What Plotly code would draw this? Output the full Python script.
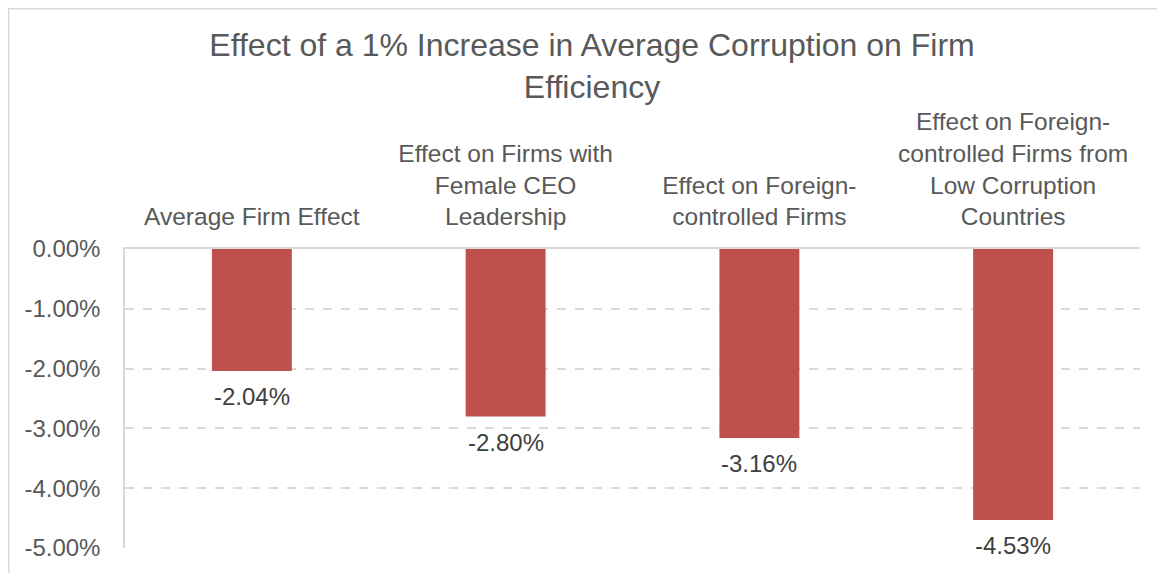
import plotly.graph_objects as go

categories = [
    "Average Firm Effect",
    "Effect on Firms with<br>Female CEO<br>Leadership",
    "Effect on Foreign-<br>controlled Firms",
    "Effect on Foreign-<br>controlled Firms from<br>Low Corruption<br>Countries",
]
values = [-2.04, -2.80, -3.16, -4.53]
y_tickvals = [0, -1, -2, -3, -4, -5]
y_ticktext = ["0.00%", "-1.00%", "-2.00%", "-3.00%", "-4.00%", "-5.00%"]
title_text = "Effect of a 1% Increase in Average Corruption on Firm<br>Efficiency"

FONT = "Liberation Sans, Arial, sans-serif"
GRID = "#D9D9D9"
TXT = "#595959"

# plot area in figure pixels
L, R, T, B = 117, 1132, 241, 540

fig = go.Figure()
fig.add_trace(go.Bar(
    x=list(range(len(categories))),
    y=values,
    marker=dict(color="#C0504D", line=dict(width=0)),
    width=0.315,
    hoverinfo="skip",
))

for i, v in enumerate(values):
    fig.add_annotation(
        x=i, y=v, xref="x", yref="y",
        text=f"{v:.2f}%", showarrow=False,
        yanchor="middle", xanchor="center", yshift=-26,
        font=dict(family=FONT, size=24, color="#404040"),
    )

# outer chart frame
fig.add_shape(
    type="rect", xref="paper", yref="paper",
    x0=(0.75 - L) / (R - L), x1=1.2, y0=-0.3, y1=(B - 0.75) / (B - T),
    line=dict(color=GRID, width=1.5), fillcolor="rgba(0,0,0,0)", layer="below",
)

fig.update_layout(
    width=1165, height=573,
    margin=dict(l=L, r=1165 - R, t=T, b=573 - B),
    paper_bgcolor="white", plot_bgcolor="white",
    showlegend=False,
    title=dict(
        text=title_text, x=584 / 1165, xref="container", xanchor="center",
        y=1 - 48 / 573, yref="container", yanchor="top",
        font=dict(family=FONT, size=32, color=TXT),
    ),
    font=dict(family=FONT, color=TXT),
    xaxis=dict(
        side="top", range=[-0.5, len(categories) - 0.5],
        tickvals=list(range(len(categories))), ticktext=categories,
        tickfont=dict(family=FONT, size=24.5, color=TXT),
        showgrid=False, showline=True, linecolor=GRID, linewidth=1.5,
        ticks="", zeroline=False, ticklabelstandoff=12,
    ),
    yaxis=dict(
        range=[-5, 0], tickvals=y_tickvals, ticktext=y_ticktext,
        tickfont=dict(family=FONT, size=24, color=TXT),
        showgrid=True, gridcolor=GRID, griddash="dash", gridwidth=1.5,
        showline=True, linecolor=GRID, linewidth=1.5,
        zeroline=False, ticks="", ticklabelstandoff=18,
    ),
)

fig.write_html("out.html")
